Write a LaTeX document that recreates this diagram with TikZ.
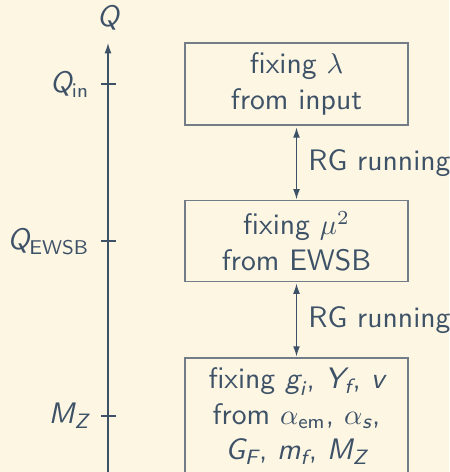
\documentclass[tikz,border=0pt]{standalone}
\usepackage{amsmath}
\usepackage{amssymb}
\usepackage{color}
\renewcommand{\familydefault}{\sfdefault}
\newcommand{\sv}[1]{\text{\sffamily\itshape #1}}
\definecolor{bg}{HTML}{FDF6E3}
\definecolor{fg}{HTML}{3E5267}
\definecolor{frame}{HTML}{737D87}
\usetikzlibrary{positioning,arrows.meta,calc}
\tikzset{
  >={Latex[length=3.6pt,width=2.4pt]},
  fixbox/.style={draw=frame,line width=0.45pt,align=center,text=fg,
    minimum width=78.3pt,inner sep=2pt},
  ticklab/.style={anchor=east,text=fg,inner sep=0pt}
}

\begin{document}
\fontsize{10.4}{12.5}\selectfont
\begin{tikzpicture}[x=0.351pt,y=-0.351pt,line width=0.42pt]
    \fill [bg] (0,0) rectangle (449,472);
    \useasboundingbox (0,0) rectangle (449,472);
    % scale axis
    \coordinate (axbot) at (108,480);
    \coordinate (axtop) at (108,43);
    \node [text=fg] (qlab) at (108,18) {$\sv{Q}$};
    \draw [fg,->] (axbot) -- (axtop);
    \node [ticklab] (qin) at (90,84) {$\sv{Q}_{\mathsf{in}}$};
    \node [ticklab] (qewsb) at (90,241) {$\sv{Q}_{\mathsf{EWSB}}$};
    \node [ticklab] (mz) at (90,416) {$\sv{M}_{\sv{Z}}$};
    \draw [fg] (101,84) -- (116,84);
    \draw [fg] (101,241) -- (116,241);
    \draw [fg] (101,416) -- (116,416);
    % the three steps
    \node [fixbox,minimum height=28.8pt] (lam) at (296.5,84)
      {fixing $\lambda$\\from input};
    \node [fixbox,minimum height=28.2pt] (musq) at (296.5,241)
      {fixing $\mu^2$\\from EWSB};
    \node [fixbox,minimum height=40.7pt] (gauge) at (296.5,416)
      {fixing $\sv{g}_{\sv{i}}$, $\sv{Y}_{\sv{f}}$, $\sv{v}$\\
       from $\alpha_{\mathsf{em}}$, $\alpha_{\sv{s}}$,\\
       $\sv{G}_{\sv{F}}$, $\sv{m}_{\sv{f}}$, $\sv{M}_{\sv{Z}}$};
    \draw [fg,<->,shorten <=0.6pt,shorten >=0.3pt] (lam) -- node [right=0.5pt,text=fg] {RG running} (musq);
    \draw [fg,<->,shorten <=0.6pt,shorten >=0.3pt] (musq) -- node [right=0.5pt,text=fg] {RG running} (gauge);
  \end{tikzpicture}
\end{document}
